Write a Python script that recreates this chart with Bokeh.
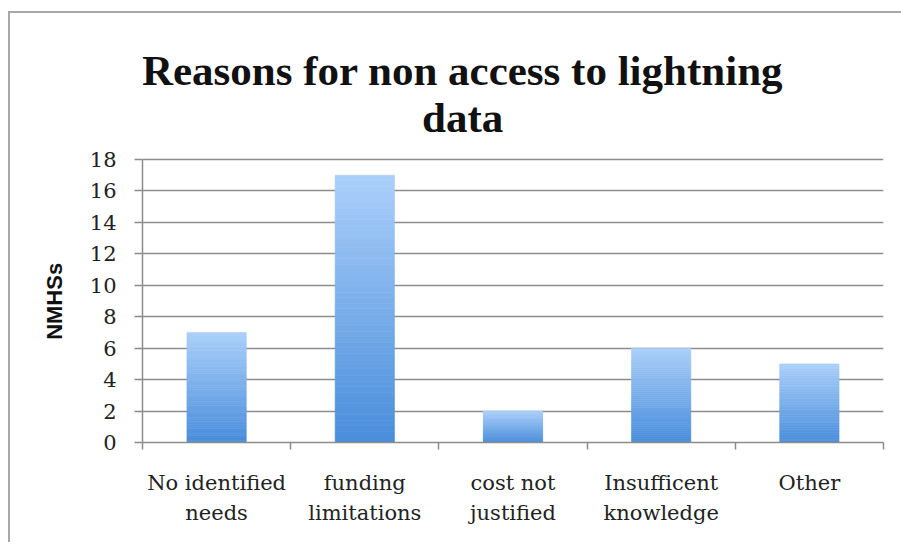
import numpy as np
from bokeh.plotting import figure
from bokeh.models import Range1d, FixedTicker, ColumnDataSource
from bokeh.core.properties import value
from bokeh.embed import file_html
from bokeh.resources import INLINE

# ---- data ----
categories = ["No identified\nneeds", "funding\nlimitations", "cost not\njustified",
              "Insufficent\nknowledge", "Other"]
values = [7, 17, 2, 6, 5]
y_ticks = [0, 2, 4, 6, 8, 10, 12, 14, 16, 18]
title_lines = ["Reasons for non access to lightning", "data"]
y_label = "NMHSs"

# ---- layout (pixels) ----
W, H = 896, 531
BORDER_L, BORDER_B = 132, 102
PLOT_PX = 283                      # pixel height of the 0..18 value span
FRAME_PX = H - BORDER_B            # frame reaches the top of the canvas
ncat = len(categories)
centers = [i + 0.5 for i in range(ncat)]
y_max = y_ticks[-1]
y_top = y_max * FRAME_PX / PLOT_PX  # room above the axis for the title

p = figure(width=W, height=H, output_backend="svg", toolbar_location=None,
           x_range=Range1d(0, ncat), y_range=Range1d(0, y_top),
           min_border_left=BORDER_L, min_border_right=W - BORDER_L - 741,
           min_border_top=0, min_border_bottom=BORDER_B)
p.title.visible = False
p.outline_line_color = None
p.background_fill_color = "white"
p.border_fill_color = "white"
p.styles = {"margin-left": "10px", "margin-top": "13px",
            "box-shadow": "-2px -2px 0 0 #a8a8a8"}

# gradient bars: each bar split in thin slices, light at top, dark at bottom
N = 48
top_c = np.array([171, 207, 250])
bot_c = np.array([72, 141, 219])
xs, bots, tops, cols = [], [], [], []
for c, v in zip(centers, values):
    for k in range(N):
        f0, f1 = k / N, (k + 1) / N
        rgb = bot_c + (top_c - bot_c) * (k + 0.5) / N
        xs.append(c)
        bots.append(v * f0)
        tops.append(v * f1)
        cols.append("#%02x%02x%02x" % tuple(int(round(t)) for t in rgb))
src = ColumnDataSource(dict(x=xs, bottom=bots, top=tops, color=cols))
p.vbar(x="x", width=0.4, bottom="bottom", top="top", source=src,
       fill_color="color", line_color="color", line_width=0.6)

# axes
grey = "#8c8c8c"
p.xgrid.grid_line_color = None
p.ygrid.grid_line_color = grey
p.ygrid.grid_line_width = 1.5
p.ygrid.ticker = FixedTicker(ticks=y_ticks)

yax = p.yaxis[0]
yax.ticker = FixedTicker(ticks=y_ticks)
yax.bounds = (0, y_max)
yax.axis_line_color = grey
yax.axis_line_width = 1.5
yax.major_tick_line_color = grey
yax.major_tick_line_width = 1.5
yax.major_tick_out = 8
yax.major_tick_in = 0
yax.minor_tick_line_color = None
yax.major_label_text_font = "DejaVu Serif"
yax.major_label_text_font_size = "21px"
yax.major_label_text_color = "#222222"
yax.major_label_standoff = 18
# trailing no-break spaces keep the label centred on the 0..18 span
yax.axis_label = y_label + "\u00a0" * 24
yax.axis_label_text_font = "Liberation Sans"
yax.axis_label_text_font_style = "bold"
yax.axis_label_text_font_size = "22px"
yax.axis_label_text_color = "#111111"
yax.axis_label_standoff = 20

xax = p.xaxis[0]
xax.ticker = FixedTicker(ticks=centers, minor_ticks=list(range(ncat + 1)))
xax.major_label_overrides = {c: lab for c, lab in zip(centers, categories)}
xax.axis_line_color = grey
xax.axis_line_width = 1.5
xax.major_tick_line_color = None
xax.minor_tick_line_color = grey
xax.minor_tick_line_width = 1.5
xax.minor_tick_out = 7
xax.minor_tick_in = 0
xax.major_label_text_font = "DejaVu Serif"
xax.major_label_text_font_size = "21px"
xax.major_label_text_color = "#222222"
xax.major_label_text_line_height = 1.28
xax.major_label_standoff = 21

# title: two centred lines placed in the space above the value axis
px_per_unit = PLOT_PX / y_max
title_x = 2.16
title_y = [(442 - 70) / px_per_unit, (442 - 117) / px_per_unit]
p.text(x=[title_x] * 2, y=title_y, text=title_lines,
       text_align="center", text_baseline="alphabetic",
       text_font=value("Liberation Serif"), text_font_style="bold",
       text_font_size="43px", text_color="#111111")

open("out.html", "w").write(file_html(p, INLINE))
